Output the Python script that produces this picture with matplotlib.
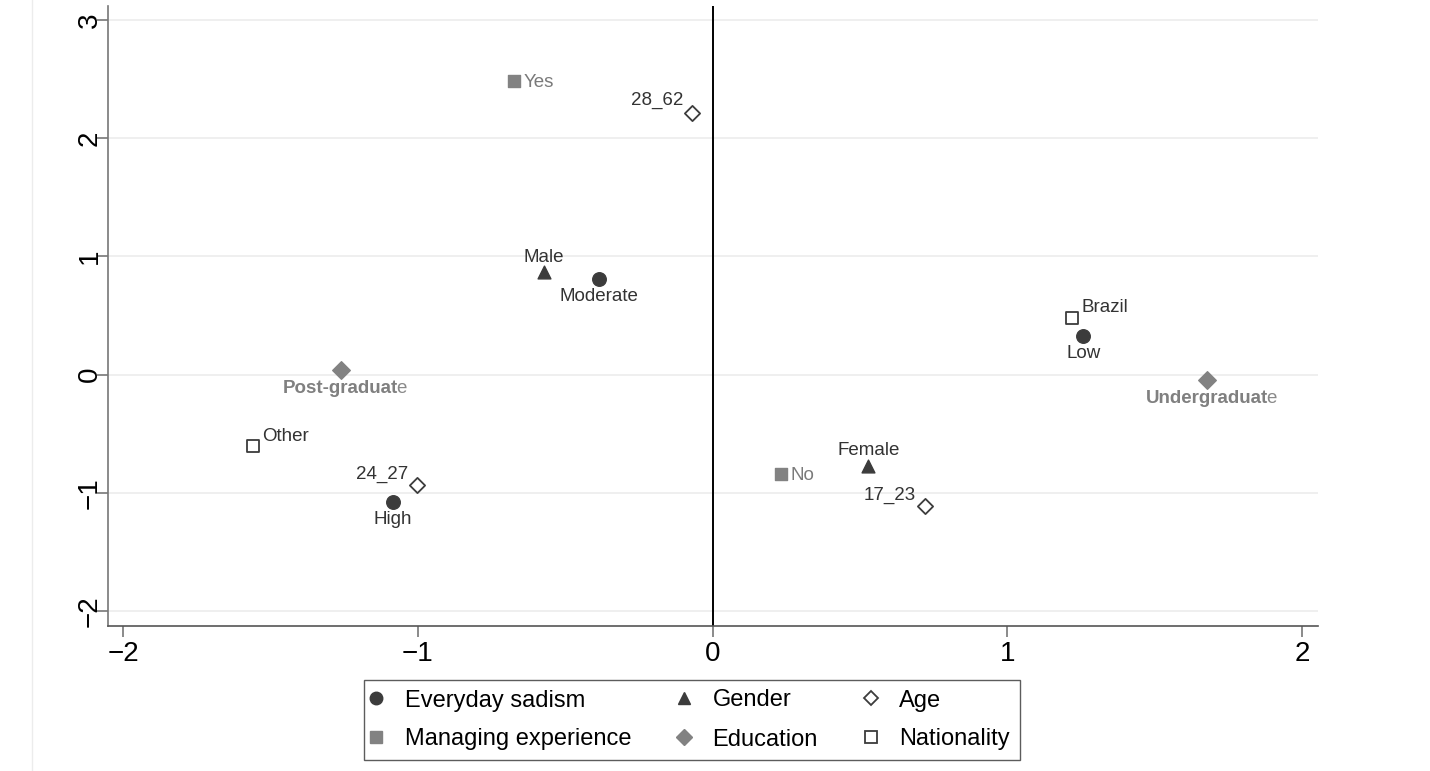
import matplotlib.pyplot as plt
from matplotlib.lines import Line2D

plt.rcParams['font.family'] = ['Liberation Sans', 'DejaVu Sans']

# category coordinates (dimension 1, dimension 2)
sadism_labels = ["Moderate", "Low", "High"]
sadism_x = [-0.386, 1.258, -1.085]
sadism_y = [0.812, 0.330, -1.074]

gender_labels = ["Male", "Female"]
gender_x = [-0.573, 0.529]
gender_y = [0.871, -0.770]

age_labels = ["28_62", "24_27", "17_23"]
age_x = [-0.071, -1.003, 0.719]
age_y = [2.217, -0.931, -1.108]

manag_labels = ["Yes", "No"]
manag_x = [-0.675, 0.231]
manag_y = [2.487, -0.838]

educ_labels = ["Post-graduate", "Undergraduate"]
educ_x = [-1.261, 1.678]
educ_y = [0.042, -0.042]

nat_labels = ["Brazil", "Other"]
nat_x = [1.220, -1.559]
nat_y = [0.482, -0.601]

xticks = [-2, -1, 0, 1, 2]
yticks = [-2, -1, 0, 1, 2, 3]

fig = plt.figure(figsize=(14.3, 7.71), dpi=100)
ax = fig.add_axes([0.0755, 0.188, 0.8462, 0.804])

# faint frame line on the left of the figure
fig.add_artist(Line2D([32 / 1430, 32 / 1430], [0, 1], color="#ececec", lw=1))

dark = "#3c3c3c"
grey = "#828282"

ax.scatter(sadism_x, sadism_y, marker="o", s=95, color=dark, zorder=3)
ax.scatter(gender_x, gender_y, marker="^", s=85, color=dark, zorder=3)
ax.scatter(age_x, age_y, marker="D", s=60, facecolor="white", edgecolor=dark, linewidths=1.3, zorder=3)
ax.scatter(manag_x, manag_y, marker="s", s=80, color=grey, zorder=3)
ax.scatter(educ_x, educ_y, marker="D", s=80, color=grey, zorder=3)
ax.scatter(nat_x, nat_y, marker="s", s=75, facecolor="white", edgecolor=dark, linewidths=1.3, zorder=3)

fs = 13.5


def lab(text, x, y, dx, dy, ha, color="#333333"):
    ax.annotate(text, (x, y), xytext=(dx, dy), textcoords="offset pixels",
                ha=ha, va="center", fontsize=fs, color=color)


# Everyday sadism
lab(sadism_labels[0], sadism_x[0], sadism_y[0], 0, -18, "center")
lab(sadism_labels[1], sadism_x[1], sadism_y[1], 0, -18, "center")
lab(sadism_labels[2], sadism_x[2], sadism_y[2], 0, -18, "center")
# Gender
lab(gender_labels[0], gender_x[0], gender_y[0], 0, 14, "center")
lab(gender_labels[1], gender_x[1], gender_y[1], 0, 15, "center")
# Age
lab(age_labels[0], age_x[0], age_y[0], -8, 12, "right")
lab(age_labels[1], age_x[1], age_y[1], -9, 10, "right")
lab(age_labels[2], age_x[2], age_y[2], -9, 10, "right")
# Managing experience
lab(manag_labels[0], manag_x[0], manag_y[0], 10, -2, "left", "#7a7a7a")
lab(manag_labels[1], manag_x[1], manag_y[1], 10, -2, "left", "#7a7a7a")
# Nationality
lab(nat_labels[0], nat_x[0], nat_y[0], 9, 10, "left")
lab(nat_labels[1], nat_x[1], nat_y[1], 9, 9, "left")

# Education: bold body with a plain last letter
for t, x, y, dx in zip(educ_labels, educ_x, educ_y, [56, 60]):
    ax.annotate(t[:-1], (x, y), xytext=(dx + 1, -19), textcoords="offset pixels",
                ha="right", va="center", fontsize=fs, color="#808080", fontweight="bold")
    ax.annotate(t[-1], (x, y), xytext=(dx - 1, -19), textcoords="offset pixels",
                ha="left", va="center", fontsize=fs, color="#8a8a8a")

ax.axvline(0, color="black", lw=1.4, zorder=2)

ax.set_xlim(-2.051, 2.054)
ax.set_ylim(-2.127, 3.118)
ax.set_xticks(xticks)
ax.set_yticks(yticks)
ax.set_xticklabels([str(v).replace("-", "\u2212") for v in xticks], fontsize=20)
ax.set_yticklabels([str(v).replace("-", "\u2212") for v in yticks], fontsize=20,
                   rotation=90, va="center")
ax.yaxis.grid(True, color="#ececec", lw=1.2)
ax.set_axisbelow(True)
ax.spines["top"].set_visible(False)
ax.spines["right"].set_visible(False)
ax.spines["left"].set_color("#777777")
ax.spines["bottom"].set_color("#555555")
ax.spines["left"].set_linewidth(1.2)
ax.spines["bottom"].set_linewidth(1.2)
ax.tick_params(axis="both", length=8, width=1.2, color="#777777")
ax.tick_params(axis="x", pad=3)
ax.tick_params(axis="y", pad=-4.5)

handles = [
    Line2D([], [], ls="", marker="o", ms=9, color=dark),
    Line2D([], [], ls="", marker="s", ms=8.5, color=grey),
    Line2D([], [], ls="", marker="^", ms=9, color=dark),
    Line2D([], [], ls="", marker="D", ms=8, color=grey),
    Line2D([], [], ls="", marker="D", ms=7.5, mfc="white", mec=dark, mew=1.3),
    Line2D([], [], ls="", marker="s", ms=8, mfc="white", mec=dark, mew=1.3),
]
names = ["Everyday sadism", "Managing experience", "Gender", "Education", "Age", "Nationality"]
leg = fig.legend(handles, names, ncol=3, loc="center", bbox_to_anchor=(692 / 1430, 1 - 720 / 771),
                 fontsize=17, frameon=True, fancybox=False, edgecolor="#333333",
                 handletextpad=1.1, columnspacing=2.15, labelspacing=0.72, borderpad=0.4,
                 handlelength=0.2)
leg.get_frame().set_linewidth(1.0)

fig.savefig("out.png", dpi=100)
